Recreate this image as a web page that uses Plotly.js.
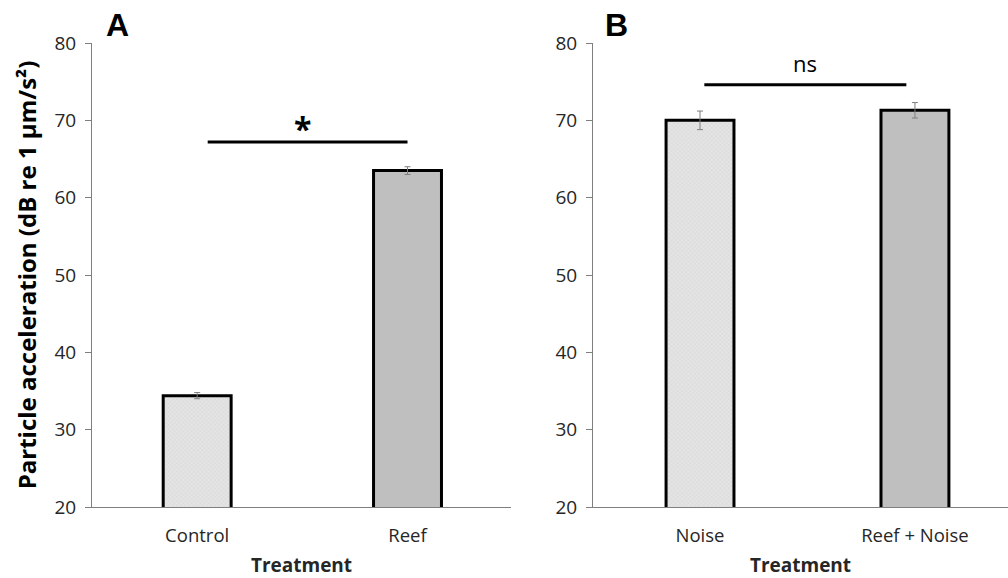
<!DOCTYPE html>
<html>
<head>
<meta charset="utf-8">
<script src="https://cdn.plot.ly/plotly-3.0.1.min.js"></script>
<style>html,body{margin:0;padding:0;background:#fff;}#chart{width:1008px;height:578px;}</style>
</head>
<body>
<div id="chart"></div>
<script>
// Panel A
const catsA = ["Control", "Reef"];
const valsA = [34.4, 63.5];
const errA = [0.4, 0.5];
// Panel B
const catsB = ["Noise", "Reef + Noise"];
const valsB = [70.0, 71.3];
const errB = [1.2, 1.0];
// Significance brackets
const sigAx = [0.05, 1.0];
const sigAy = [67.2, 67.2];
const sigBx = [0.02, 0.96];
const sigBy = [74.6, 74.6];
const sigLabels = ["*", "ns"];
const yTicks = [20, 30, 40, 50, 60, 70, 80];

const FONT = "Open Sans, Liberation Sans, sans-serif";
const lightMarker = {
  color: "#e2e2e2",
  pattern: {shape: "x", size: 3, solidity: 0.15, fgcolor: "#c8c8c8", bgcolor: "#e4e4e4"},
  line: {color: "#000", width: 3}
};
const darkMarker = {color: "#bfbfbf", line: {color: "#000", width: 3}};
const errStyle = {type: "data", visible: true, color: "#7f7f7f", thickness: 1, width: 3};

const traces = [
  {type: "bar", x: [0], y: [valsA[0]], error_y: Object.assign({array: [errA[0]]}, errStyle),
   marker: lightMarker, width: 0.323, xaxis: "x", yaxis: "y", hoverinfo: "skip"},
  {type: "bar", x: [1], y: [valsA[1]], error_y: Object.assign({array: [errA[1]]}, errStyle),
   marker: darkMarker, width: 0.323, xaxis: "x", yaxis: "y", hoverinfo: "skip"},
  {type: "bar", x: [0], y: [valsB[0]], error_y: Object.assign({array: [errB[0]]}, errStyle),
   marker: lightMarker, width: 0.316, xaxis: "x2", yaxis: "y2", hoverinfo: "skip"},
  {type: "bar", x: [1], y: [valsB[1]], error_y: Object.assign({array: [errB[1]]}, errStyle),
   marker: darkMarker, width: 0.316, xaxis: "x2", yaxis: "y2", hoverinfo: "skip"},
  {type: "scatter", mode: "lines", x: sigAx, y: sigAy, line: {color: "#000", width: 3},
   xaxis: "x", yaxis: "y", hoverinfo: "skip"},
  {type: "scatter", mode: "lines", x: sigBx, y: sigBy, line: {color: "#000", width: 3},
   xaxis: "x2", yaxis: "y2", hoverinfo: "skip"}
];

const xCommon = {
  type: "linear", showgrid: false, zeroline: false, showline: true, linecolor: "#7f7f7f", linewidth: 1,
  ticks: "", ticklabelstandoff: 12,
  tickfont: {family: FONT, size: 18.5, color: "#262626"},
  title: {text: "<b>Treatment</b>", font: {family: FONT, size: 19, color: "#262626"}, standoff: 12}
};
const yCommon = {
  range: [20, 80], tickvals: yTicks, showgrid: false, zeroline: false, showline: true,
  linecolor: "#7f7f7f", linewidth: 1, ticks: "outside", ticklen: 6, tickcolor: "#7f7f7f",
  tickfont: {family: FONT, size: 19, color: "#262626"}, ticklabelstandoff: 5
};

const layout = {
  width: 1008, height: 578,
  margin: {l: 0, r: 0, t: 43, b: 71},
  paper_bgcolor: "#fff", plot_bgcolor: "#fff",
  showlegend: false, barmode: "overlay",
  xaxis: Object.assign({}, xCommon, {domain: [92/1008, 511/1008], range: [-0.5, 1.492],
    tickvals: [0, 1], ticktext: catsA}),
  xaxis2: Object.assign({}, xCommon, {domain: [593/1008, 1], range: [-0.498, 1.433],
    tickvals: [0, 1], ticktext: catsB}),
  yaxis: Object.assign({}, yCommon, {anchor: "x",
    title: {text: "<b>Particle acceleration (dB re 1 µm/s²)</b>", font: {family: FONT, size: 24, color: "#000"}, standoff: 11}}),
  yaxis2: Object.assign({}, yCommon, {anchor: "x2"}),
  annotations: [
    {text: "<b>A</b>", xref: "paper", yref: "paper", x: 117/1008, y: 1 + 18/464, yanchor: "middle", xanchor: "center",
     showarrow: false, font: {family: "Liberation Sans, Arial, sans-serif", size: 32, color: "#000"}},
    {text: "<b>B</b>", xref: "paper", yref: "paper", x: 616/1008, y: 1 + 18/464, yanchor: "middle", xanchor: "center",
     showarrow: false, font: {family: "Liberation Sans, Arial, sans-serif", size: 32, color: "#000"}},
    {text: "<b>" + sigLabels[0] + "</b>", xref: "x", yref: "y", x: 0.5, y: 68.3, yanchor: "bottom", xanchor: "center",
     showarrow: false, font: {family: FONT, size: 32, color: "#000"}, yshift: -19},
    {text: sigLabels[1], xref: "x2", yref: "y2", x: 0.49, y: 75.6, yanchor: "bottom", xanchor: "center",
     showarrow: false, font: {family: FONT, size: 22, color: "#000"}, yshift: -3}
  ]
};

Plotly.newPlot("chart", traces, layout, {displayModeBar: false, staticPlot: true});
</script>
</body>
</html>
